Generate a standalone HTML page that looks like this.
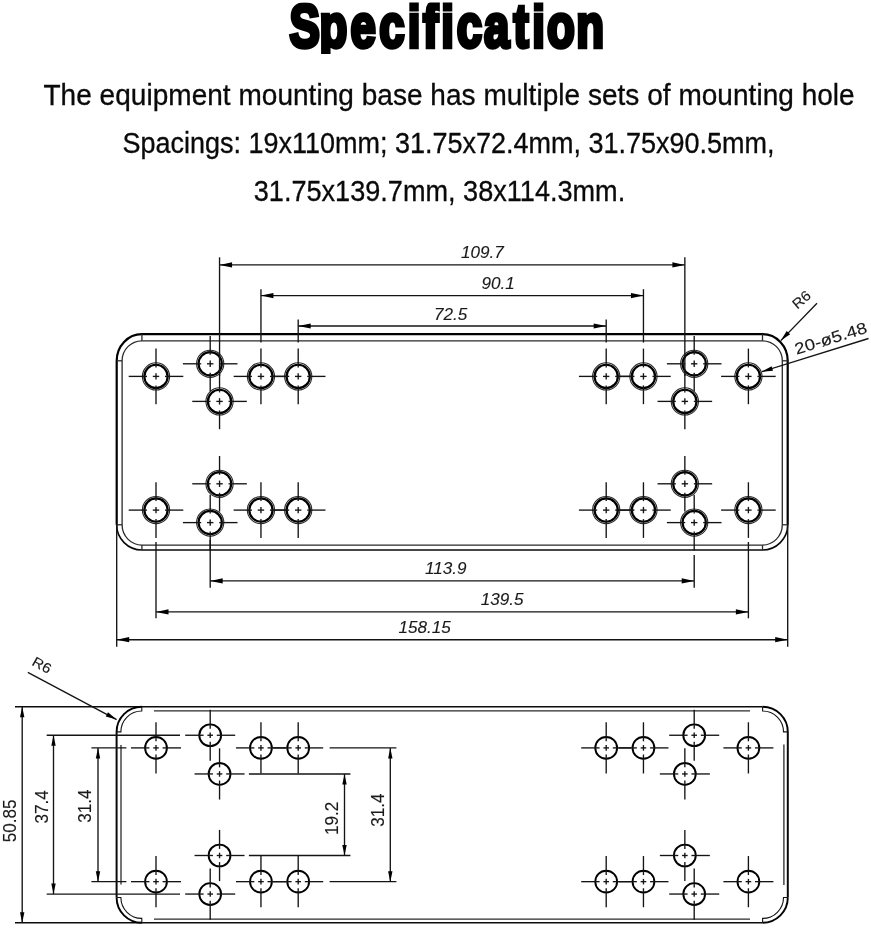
<!DOCTYPE html>
<html lang="en">
<head>
<meta charset="utf-8">
<title>Specification</title>
<style>
html, body { margin: 0; padding: 0; background: #fff; }
body { width: 871px; height: 931px; position: relative; overflow: hidden;
  font-family: "Liberation Sans", sans-serif; color: #000; }
.desc { position: absolute; left: 0; top: 72px; width: 871px; margin: 0; text-align: center;
  font: 400 28px/47.8px "Liberation Sans", sans-serif; color: #0a0a0a; white-space: nowrap; will-change: transform; -webkit-text-stroke: 0.3px #0a0a0a; }
.desc span { display: block; position: relative; transform-origin: 50% 68%; transform: scale(1, 1.08); }
.desc .l1 { left: 13.6px; letter-spacing: 0.03px; }
.desc .l2 { left: 12.5px; transform: scale(0.9635, 1.08); }
.desc .l3 { left: 3.6px; transform: scale(0.9675, 1.08); }
svg { position: absolute; left: 0; top: 0; will-change: transform; }
svg line, svg rect, svg circle, svg path { fill: none; stroke-linecap: butt; }
.k { stroke: #000; stroke-width: 2.2; }
.kb { stroke: #0a0a0a; stroke-width: 1.6; }
.k2 { stroke: #0c0c0c; stroke-width: 1.6; }
.k3 { stroke: #0a0a0a; stroke-width: 2; }
.m { stroke: #2a2a2a; stroke-width: 1.3; }
.t { stroke: #141414; stroke-width: 1.35; }
.c { stroke: #141414; stroke-width: 1.35; }
.h { stroke: #000; stroke-width: 2.2; }
.o { stroke: #2a2a2a; stroke-width: 1.1; }
.b { stroke: #000; stroke-width: 1.9; }
.a { fill: #000; stroke: none; }
.cr { fill: none; stroke: #000; stroke-width: 1.9; }
.cri { fill: none; stroke: #111; stroke-width: 1.1; }
.d { font-family: "Liberation Sans", sans-serif; fill: #1a1a1a; stroke: #1a1a1a; stroke-width: 0.12px; }
.i { font-style: italic; }
.ttl { font-family: "Liberation Sans", sans-serif; font-weight: bold; fill: #000; stroke: #000; stroke-linejoin: miter; }
</style>
</head>
<body>
<p class="desc"><span class="l1">The equipment mounting base has multiple sets of mounting hole</span><span class="l2">Spacings: 19x110mm; 31.75x72.4mm, 31.75x90.5mm,</span><span class="l3">31.75x139.7mm, 38x114.3mm.</span></p>
<svg width="871" height="931" viewBox="0 0 871 931">
<defs><clipPath id="tclip"><rect x="280" y="2.6" width="340" height="51.4"/></clipPath></defs>
<g clip-path="url(#tclip)"><text class="ttl" transform="scale(0.74 1)" font-size="61.5" stroke-width="4.4" x="391.22 431.8 473.63 512.46 550.95 571.47 596.28 617.33 654.23 693.95 719.12 739.19 778.8" y="46.7">Specification</text></g>
<g id="top-view">
<path class="k" d="M116.7,524.8 L116.7,360.8 A25.2,26.6 0 0 1 141.9,334.2 L762.5,334.2 A25.2,26.6 0 0 1 787.7,360.8 L787.7,524.8"/>
<path class="kb" d="M116.7,524.8 A25.2,25.2 0 0 0 141.9,550 L762.5,550 A25.2,25.2 0 0 0 787.7,524.8"/>
<path class="m" d="M122.1,524.8 L122.1,360.8 A19.8,20 0 0 1 141.9,340.8 L762.5,340.8 A19.8,20 0 0 1 782.3,360.8 L782.3,524.8 A19.8,20.3 0 0 1 762.5,545.1 L141.9,545.1 A19.8,20.3 0 0 1 122.1,524.8 Z"/>
<line class="m" x1="141.9" y1="334.2" x2="141.9" y2="340.8"/>
<line class="m" x1="141.9" y1="550" x2="141.9" y2="545.1"/>
<line class="m" x1="116.7" y1="360.8" x2="122.1" y2="360.8"/>
<line class="m" x1="116.7" y1="524.8" x2="122.1" y2="524.8"/>
<line class="m" x1="762.5" y1="334.2" x2="762.5" y2="340.8"/>
<line class="m" x1="762.5" y1="550" x2="762.5" y2="545.1"/>
<line class="m" x1="787.7" y1="360.8" x2="782.3" y2="360.8"/>
<line class="m" x1="787.7" y1="524.8" x2="782.3" y2="524.8"/>
<circle class="o" cx="156" cy="376.4" r="13.6"/>
<circle class="h" cx="156" cy="376.4" r="11.65"/>
<line class="c" x1="147" y1="376.4" x2="128.7" y2="376.4"/>
<line class="c" x1="156" y1="367.4" x2="156" y2="348.6"/>
<line class="c" x1="165" y1="376.4" x2="183.3" y2="376.4"/>
<line class="c" x1="156" y1="385.4" x2="156" y2="404.2"/>
<line class="c" x1="152.8" y1="376.4" x2="159.2" y2="376.4"/>
<line class="c" x1="156" y1="373.2" x2="156" y2="379.6"/>
<circle class="o" cx="260.95" cy="376.4" r="13.6"/>
<circle class="h" cx="260.95" cy="376.4" r="11.65"/>
<line class="c" x1="251.95" y1="376.4" x2="233.65" y2="376.4"/>
<line class="c" x1="260.95" y1="367.4" x2="260.95" y2="348.6"/>
<line class="c" x1="269.95" y1="376.4" x2="288.25" y2="376.4"/>
<line class="c" x1="260.95" y1="385.4" x2="260.95" y2="404.2"/>
<line class="c" x1="257.75" y1="376.4" x2="264.15" y2="376.4"/>
<line class="c" x1="260.95" y1="373.2" x2="260.95" y2="379.6"/>
<circle class="o" cx="298.2" cy="376.4" r="13.6"/>
<circle class="h" cx="298.2" cy="376.4" r="11.65"/>
<line class="c" x1="289.2" y1="376.4" x2="270.9" y2="376.4"/>
<line class="c" x1="298.2" y1="367.4" x2="298.2" y2="348.6"/>
<line class="c" x1="307.2" y1="376.4" x2="325.5" y2="376.4"/>
<line class="c" x1="298.2" y1="385.4" x2="298.2" y2="404.2"/>
<line class="c" x1="295" y1="376.4" x2="301.4" y2="376.4"/>
<line class="c" x1="298.2" y1="373.2" x2="298.2" y2="379.6"/>
<circle class="o" cx="210.2" cy="363.8" r="13.6"/>
<circle class="h" cx="210.2" cy="363.8" r="11.65"/>
<line class="c" x1="201.2" y1="363.8" x2="182.9" y2="363.8"/>
<line class="c" x1="210.2" y1="354.8" x2="210.2" y2="336"/>
<line class="c" x1="219.2" y1="363.8" x2="237.5" y2="363.8"/>
<line class="c" x1="210.2" y1="372.8" x2="210.2" y2="391.6"/>
<line class="c" x1="207" y1="363.8" x2="213.4" y2="363.8"/>
<line class="c" x1="210.2" y1="360.6" x2="210.2" y2="367"/>
<circle class="o" cx="219.55" cy="401.4" r="13.6"/>
<circle class="h" cx="219.55" cy="401.4" r="11.65"/>
<line class="c" x1="210.55" y1="401.4" x2="192.25" y2="401.4"/>
<line class="c" x1="219.55" y1="392.4" x2="219.55" y2="373.6"/>
<line class="c" x1="228.55" y1="401.4" x2="246.85" y2="401.4"/>
<line class="c" x1="219.55" y1="410.4" x2="219.55" y2="429.2"/>
<line class="c" x1="216.35" y1="401.4" x2="222.75" y2="401.4"/>
<line class="c" x1="219.55" y1="398.2" x2="219.55" y2="404.6"/>
<circle class="o" cx="156" cy="510.1" r="13.6"/>
<circle class="h" cx="156" cy="510.1" r="11.65"/>
<line class="c" x1="147" y1="510.1" x2="128.7" y2="510.1"/>
<line class="c" x1="156" y1="501.1" x2="156" y2="482.3"/>
<line class="c" x1="165" y1="510.1" x2="183.3" y2="510.1"/>
<line class="c" x1="156" y1="519.1" x2="156" y2="537.9"/>
<line class="c" x1="152.8" y1="510.1" x2="159.2" y2="510.1"/>
<line class="c" x1="156" y1="506.9" x2="156" y2="513.3"/>
<circle class="o" cx="260.95" cy="510.1" r="13.6"/>
<circle class="h" cx="260.95" cy="510.1" r="11.65"/>
<line class="c" x1="251.95" y1="510.1" x2="233.65" y2="510.1"/>
<line class="c" x1="260.95" y1="501.1" x2="260.95" y2="482.3"/>
<line class="c" x1="269.95" y1="510.1" x2="288.25" y2="510.1"/>
<line class="c" x1="260.95" y1="519.1" x2="260.95" y2="537.9"/>
<line class="c" x1="257.75" y1="510.1" x2="264.15" y2="510.1"/>
<line class="c" x1="260.95" y1="506.9" x2="260.95" y2="513.3"/>
<circle class="o" cx="298.2" cy="510.1" r="13.6"/>
<circle class="h" cx="298.2" cy="510.1" r="11.65"/>
<line class="c" x1="289.2" y1="510.1" x2="270.9" y2="510.1"/>
<line class="c" x1="298.2" y1="501.1" x2="298.2" y2="482.3"/>
<line class="c" x1="307.2" y1="510.1" x2="325.5" y2="510.1"/>
<line class="c" x1="298.2" y1="519.1" x2="298.2" y2="537.9"/>
<line class="c" x1="295" y1="510.1" x2="301.4" y2="510.1"/>
<line class="c" x1="298.2" y1="506.9" x2="298.2" y2="513.3"/>
<circle class="o" cx="210.2" cy="522.6" r="13.6"/>
<circle class="h" cx="210.2" cy="522.6" r="11.65"/>
<line class="c" x1="201.2" y1="522.6" x2="182.9" y2="522.6"/>
<line class="c" x1="210.2" y1="513.6" x2="210.2" y2="494.8"/>
<line class="c" x1="219.2" y1="522.6" x2="237.5" y2="522.6"/>
<line class="c" x1="210.2" y1="531.6" x2="210.2" y2="550.4"/>
<line class="c" x1="207" y1="522.6" x2="213.4" y2="522.6"/>
<line class="c" x1="210.2" y1="519.4" x2="210.2" y2="525.8"/>
<circle class="o" cx="219.55" cy="483.8" r="13.6"/>
<circle class="h" cx="219.55" cy="483.8" r="11.65"/>
<line class="c" x1="210.55" y1="483.8" x2="192.25" y2="483.8"/>
<line class="c" x1="219.55" y1="474.8" x2="219.55" y2="456"/>
<line class="c" x1="228.55" y1="483.8" x2="246.85" y2="483.8"/>
<line class="c" x1="219.55" y1="492.8" x2="219.55" y2="511.6"/>
<line class="c" x1="216.35" y1="483.8" x2="222.75" y2="483.8"/>
<line class="c" x1="219.55" y1="480.6" x2="219.55" y2="487"/>
<circle class="o" cx="748.4" cy="376.4" r="13.6"/>
<circle class="h" cx="748.4" cy="376.4" r="11.65"/>
<line class="c" x1="739.4" y1="376.4" x2="721.1" y2="376.4"/>
<line class="c" x1="748.4" y1="367.4" x2="748.4" y2="348.6"/>
<line class="c" x1="757.4" y1="376.4" x2="775.7" y2="376.4"/>
<line class="c" x1="748.4" y1="385.4" x2="748.4" y2="404.2"/>
<line class="c" x1="745.2" y1="376.4" x2="751.6" y2="376.4"/>
<line class="c" x1="748.4" y1="373.2" x2="748.4" y2="379.6"/>
<circle class="o" cx="643.45" cy="376.4" r="13.6"/>
<circle class="h" cx="643.45" cy="376.4" r="11.65"/>
<line class="c" x1="634.45" y1="376.4" x2="616.15" y2="376.4"/>
<line class="c" x1="643.45" y1="367.4" x2="643.45" y2="348.6"/>
<line class="c" x1="652.45" y1="376.4" x2="670.75" y2="376.4"/>
<line class="c" x1="643.45" y1="385.4" x2="643.45" y2="404.2"/>
<line class="c" x1="640.25" y1="376.4" x2="646.65" y2="376.4"/>
<line class="c" x1="643.45" y1="373.2" x2="643.45" y2="379.6"/>
<circle class="o" cx="606.2" cy="376.4" r="13.6"/>
<circle class="h" cx="606.2" cy="376.4" r="11.65"/>
<line class="c" x1="597.2" y1="376.4" x2="578.9" y2="376.4"/>
<line class="c" x1="606.2" y1="367.4" x2="606.2" y2="348.6"/>
<line class="c" x1="615.2" y1="376.4" x2="633.5" y2="376.4"/>
<line class="c" x1="606.2" y1="385.4" x2="606.2" y2="404.2"/>
<line class="c" x1="603" y1="376.4" x2="609.4" y2="376.4"/>
<line class="c" x1="606.2" y1="373.2" x2="606.2" y2="379.6"/>
<circle class="o" cx="694.2" cy="363.8" r="13.6"/>
<circle class="h" cx="694.2" cy="363.8" r="11.65"/>
<line class="c" x1="685.2" y1="363.8" x2="666.9" y2="363.8"/>
<line class="c" x1="694.2" y1="354.8" x2="694.2" y2="336"/>
<line class="c" x1="703.2" y1="363.8" x2="721.5" y2="363.8"/>
<line class="c" x1="694.2" y1="372.8" x2="694.2" y2="391.6"/>
<line class="c" x1="691" y1="363.8" x2="697.4" y2="363.8"/>
<line class="c" x1="694.2" y1="360.6" x2="694.2" y2="367"/>
<circle class="o" cx="684.85" cy="401.4" r="13.6"/>
<circle class="h" cx="684.85" cy="401.4" r="11.65"/>
<line class="c" x1="675.85" y1="401.4" x2="657.55" y2="401.4"/>
<line class="c" x1="684.85" y1="392.4" x2="684.85" y2="373.6"/>
<line class="c" x1="693.85" y1="401.4" x2="712.15" y2="401.4"/>
<line class="c" x1="684.85" y1="410.4" x2="684.85" y2="429.2"/>
<line class="c" x1="681.65" y1="401.4" x2="688.05" y2="401.4"/>
<line class="c" x1="684.85" y1="398.2" x2="684.85" y2="404.6"/>
<circle class="o" cx="748.4" cy="510.1" r="13.6"/>
<circle class="h" cx="748.4" cy="510.1" r="11.65"/>
<line class="c" x1="739.4" y1="510.1" x2="721.1" y2="510.1"/>
<line class="c" x1="748.4" y1="501.1" x2="748.4" y2="482.3"/>
<line class="c" x1="757.4" y1="510.1" x2="775.7" y2="510.1"/>
<line class="c" x1="748.4" y1="519.1" x2="748.4" y2="537.9"/>
<line class="c" x1="745.2" y1="510.1" x2="751.6" y2="510.1"/>
<line class="c" x1="748.4" y1="506.9" x2="748.4" y2="513.3"/>
<circle class="o" cx="643.45" cy="510.1" r="13.6"/>
<circle class="h" cx="643.45" cy="510.1" r="11.65"/>
<line class="c" x1="634.45" y1="510.1" x2="616.15" y2="510.1"/>
<line class="c" x1="643.45" y1="501.1" x2="643.45" y2="482.3"/>
<line class="c" x1="652.45" y1="510.1" x2="670.75" y2="510.1"/>
<line class="c" x1="643.45" y1="519.1" x2="643.45" y2="537.9"/>
<line class="c" x1="640.25" y1="510.1" x2="646.65" y2="510.1"/>
<line class="c" x1="643.45" y1="506.9" x2="643.45" y2="513.3"/>
<circle class="o" cx="606.2" cy="510.1" r="13.6"/>
<circle class="h" cx="606.2" cy="510.1" r="11.65"/>
<line class="c" x1="597.2" y1="510.1" x2="578.9" y2="510.1"/>
<line class="c" x1="606.2" y1="501.1" x2="606.2" y2="482.3"/>
<line class="c" x1="615.2" y1="510.1" x2="633.5" y2="510.1"/>
<line class="c" x1="606.2" y1="519.1" x2="606.2" y2="537.9"/>
<line class="c" x1="603" y1="510.1" x2="609.4" y2="510.1"/>
<line class="c" x1="606.2" y1="506.9" x2="606.2" y2="513.3"/>
<circle class="o" cx="694.2" cy="522.6" r="13.6"/>
<circle class="h" cx="694.2" cy="522.6" r="11.65"/>
<line class="c" x1="685.2" y1="522.6" x2="666.9" y2="522.6"/>
<line class="c" x1="694.2" y1="513.6" x2="694.2" y2="494.8"/>
<line class="c" x1="703.2" y1="522.6" x2="721.5" y2="522.6"/>
<line class="c" x1="694.2" y1="531.6" x2="694.2" y2="550.4"/>
<line class="c" x1="691" y1="522.6" x2="697.4" y2="522.6"/>
<line class="c" x1="694.2" y1="519.4" x2="694.2" y2="525.8"/>
<circle class="o" cx="684.85" cy="483.8" r="13.6"/>
<circle class="h" cx="684.85" cy="483.8" r="11.65"/>
<line class="c" x1="675.85" y1="483.8" x2="657.55" y2="483.8"/>
<line class="c" x1="684.85" y1="474.8" x2="684.85" y2="456"/>
<line class="c" x1="693.85" y1="483.8" x2="712.15" y2="483.8"/>
<line class="c" x1="684.85" y1="492.8" x2="684.85" y2="511.6"/>
<line class="c" x1="681.65" y1="483.8" x2="688.05" y2="483.8"/>
<line class="c" x1="684.85" y1="480.6" x2="684.85" y2="487"/>
<line class="t" x1="219.55" y1="264.9" x2="684.85" y2="264.9"/>
<polygon class="a" points="219.55,264.9 232.05,262.3 232.05,267.5"/>
<polygon class="a" points="684.85,264.9 672.35,267.5 672.35,262.3"/>
<line class="t" x1="219.55" y1="257.3" x2="219.55" y2="376"/>
<line class="t" x1="684.85" y1="257.3" x2="684.85" y2="376"/>
<line class="t" x1="260.95" y1="295.6" x2="643.45" y2="295.6"/>
<polygon class="a" points="260.95,295.6 273.45,293 273.45,298.2"/>
<polygon class="a" points="643.45,295.6 630.95,298.2 630.95,293"/>
<line class="t" x1="260.95" y1="289.2" x2="260.95" y2="342.6"/>
<line class="t" x1="643.45" y1="289.2" x2="643.45" y2="342.6"/>
<line class="t" x1="298.2" y1="326" x2="606.2" y2="326"/>
<polygon class="a" points="298.2,326 310.7,323.4 310.7,328.6"/>
<polygon class="a" points="606.2,326 593.7,328.6 593.7,323.4"/>
<line class="t" x1="298.2" y1="319.4" x2="298.2" y2="342.6"/>
<line class="t" x1="606.2" y1="319.4" x2="606.2" y2="342.6"/>
<text class="d i" text-anchor="middle" font-size="16" transform="translate(482.4 258.3) scale(1.07 1)">109.7</text>
<text class="d i" text-anchor="middle" font-size="16" transform="translate(498.2 288.7) scale(1.07 1)">90.1</text>
<text class="d i" text-anchor="middle" font-size="16" transform="translate(450.7 319.5) scale(1.07 1)">72.5</text>
<line class="t" x1="210.2" y1="580.9" x2="694.2" y2="580.9"/>
<polygon class="a" points="210.2,580.9 222.7,578.3 222.7,583.5"/>
<polygon class="a" points="694.2,580.9 681.7,583.5 681.7,578.3"/>
<line class="t" x1="210.2" y1="540" x2="210.2" y2="587.8"/>
<line class="t" x1="694.2" y1="555" x2="694.2" y2="587.8"/>
<line class="t" x1="156" y1="611.9" x2="748.4" y2="611.9"/>
<polygon class="a" points="156,611.9 168.5,609.3 168.5,614.5"/>
<polygon class="a" points="748.4,611.9 735.9,614.5 735.9,609.3"/>
<line class="t" x1="156" y1="542" x2="156" y2="618.3"/>
<line class="t" x1="748.4" y1="542" x2="748.4" y2="618.3"/>
<line class="t" x1="116.7" y1="639.7" x2="787.7" y2="639.7"/>
<polygon class="a" points="116.7,639.7 129.2,637.1 129.2,642.3"/>
<polygon class="a" points="787.7,639.7 775.2,642.3 775.2,637.1"/>
<line class="t" x1="116.7" y1="524" x2="116.7" y2="646.8"/>
<line class="t" x1="787.7" y1="524" x2="787.7" y2="646.8"/>
<text class="d i" text-anchor="middle" font-size="16" transform="translate(445.8 573.7) scale(1.07 1)">113.9</text>
<text class="d i" text-anchor="middle" font-size="16" transform="translate(502.2 604.8) scale(1.07 1)">139.5</text>
<text class="d i" text-anchor="middle" font-size="16" transform="translate(424.6 633) scale(1.07 1)">158.15</text>
<line class="t" x1="817" y1="303.2" x2="780.8" y2="340.6"/>
<polygon class="a" points="780.8,340.6 786.71,331.02 790.17,334.35"/>
<text class="d" text-anchor="middle" font-size="14.2" transform="translate(804.6 303.4) rotate(-40) scale(1.07 1)">R6</text>
<line class="t" x1="868.5" y1="338.5" x2="761.8" y2="371.7"/>
<polygon class="a" points="761.8,371.7 771.59,366.14 773.02,370.72"/>
<text class="d" text-anchor="middle" font-size="16" transform="translate(832.3 343.6) rotate(-17.2) scale(1.17 1)">20-ø5.48</text>
</g>
<g id="side-view">
<line class="k2" x1="15" y1="706.7" x2="762.6" y2="706.7"/>
<line class="k2" x1="15" y1="922.7" x2="762.6" y2="922.7"/>
<line class="m" x1="154" y1="710.8" x2="750" y2="710.8"/>
<line class="m" x1="154" y1="919.1" x2="750" y2="919.1"/>
<line class="k3" x1="116.6" y1="731.9" x2="116.6" y2="897.5"/>
<line class="m" x1="121" y1="744.9" x2="121" y2="884.5"/>
<line class="k3" x1="787.8" y1="731.9" x2="787.8" y2="897.5"/>
<line class="m" x1="783.9" y1="744.4" x2="783.9" y2="885"/>
<path class="cr" d="M141.8,706.7 A25.2,25.2 0 0 0 116.6,731.9"/>
<path class="cri" d="M141.8,706.7 L141.8,711 A20.9,20.9 0 0 0 120.9,731.9 L116.6,731.9"/>
<path class="cr" d="M762.6,706.7 A25.2,25.2 0 0 1 787.8,731.9"/>
<path class="cri" d="M762.6,706.7 L762.6,711 A20.9,20.9 0 0 1 783.5,731.9 L787.8,731.9"/>
<path class="cr" d="M141.8,922.7 A25.2,25.2 0 0 1 116.6,897.5"/>
<path class="cri" d="M141.8,922.7 L141.8,918.4 A20.9,20.9 0 0 1 120.9,897.5 L116.6,897.5"/>
<path class="cr" d="M762.6,922.7 A25.2,25.2 0 0 0 787.8,897.5"/>
<path class="cri" d="M762.6,922.7 L762.6,918.4 A20.9,20.9 0 0 0 783.5,897.5 L787.8,897.5"/>
<circle class="b" cx="156" cy="747.9" r="10.9"/>
<line class="c" x1="149.4" y1="747.9" x2="131" y2="747.9"/>
<line class="c" x1="156" y1="741.3" x2="156" y2="722.3"/>
<line class="c" x1="162.6" y1="747.9" x2="181" y2="747.9"/>
<line class="c" x1="156" y1="754.5" x2="156" y2="773.5"/>
<line class="c" x1="153.2" y1="747.9" x2="158.8" y2="747.9"/>
<line class="c" x1="156" y1="745.1" x2="156" y2="750.7"/>
<circle class="b" cx="260.95" cy="747.9" r="10.9"/>
<line class="c" x1="254.35" y1="747.9" x2="235.95" y2="747.9"/>
<line class="c" x1="260.95" y1="741.3" x2="260.95" y2="722.3"/>
<line class="c" x1="267.55" y1="747.9" x2="285.95" y2="747.9"/>
<line class="c" x1="260.95" y1="754.5" x2="260.95" y2="773.5"/>
<line class="c" x1="258.15" y1="747.9" x2="263.75" y2="747.9"/>
<line class="c" x1="260.95" y1="745.1" x2="260.95" y2="750.7"/>
<circle class="b" cx="298.2" cy="747.9" r="10.9"/>
<line class="c" x1="291.6" y1="747.9" x2="273.2" y2="747.9"/>
<line class="c" x1="298.2" y1="741.3" x2="298.2" y2="722.3"/>
<line class="c" x1="304.8" y1="747.9" x2="323.2" y2="747.9"/>
<line class="c" x1="298.2" y1="754.5" x2="298.2" y2="773.5"/>
<line class="c" x1="295.4" y1="747.9" x2="301" y2="747.9"/>
<line class="c" x1="298.2" y1="745.1" x2="298.2" y2="750.7"/>
<circle class="b" cx="210.2" cy="735.25" r="10.9"/>
<line class="c" x1="203.6" y1="735.25" x2="185.2" y2="735.25"/>
<line class="c" x1="210.2" y1="728.65" x2="210.2" y2="709.65"/>
<line class="c" x1="216.8" y1="735.25" x2="235.2" y2="735.25"/>
<line class="c" x1="210.2" y1="741.85" x2="210.2" y2="760.85"/>
<line class="c" x1="207.4" y1="735.25" x2="213" y2="735.25"/>
<line class="c" x1="210.2" y1="732.45" x2="210.2" y2="738.05"/>
<circle class="b" cx="219.55" cy="773.95" r="10.9"/>
<line class="c" x1="212.95" y1="773.95" x2="194.55" y2="773.95"/>
<line class="c" x1="219.55" y1="767.35" x2="219.55" y2="748.35"/>
<line class="c" x1="226.15" y1="773.95" x2="244.55" y2="773.95"/>
<line class="c" x1="219.55" y1="780.55" x2="219.55" y2="799.55"/>
<line class="c" x1="216.75" y1="773.95" x2="222.35" y2="773.95"/>
<line class="c" x1="219.55" y1="771.15" x2="219.55" y2="776.75"/>
<circle class="b" cx="156" cy="881.65" r="10.9"/>
<line class="c" x1="149.4" y1="881.65" x2="131" y2="881.65"/>
<line class="c" x1="156" y1="875.05" x2="156" y2="856.05"/>
<line class="c" x1="162.6" y1="881.65" x2="181" y2="881.65"/>
<line class="c" x1="156" y1="888.25" x2="156" y2="907.25"/>
<line class="c" x1="153.2" y1="881.65" x2="158.8" y2="881.65"/>
<line class="c" x1="156" y1="878.85" x2="156" y2="884.45"/>
<circle class="b" cx="260.95" cy="881.65" r="10.9"/>
<line class="c" x1="254.35" y1="881.65" x2="235.95" y2="881.65"/>
<line class="c" x1="260.95" y1="875.05" x2="260.95" y2="856.05"/>
<line class="c" x1="267.55" y1="881.65" x2="285.95" y2="881.65"/>
<line class="c" x1="260.95" y1="888.25" x2="260.95" y2="907.25"/>
<line class="c" x1="258.15" y1="881.65" x2="263.75" y2="881.65"/>
<line class="c" x1="260.95" y1="878.85" x2="260.95" y2="884.45"/>
<circle class="b" cx="298.2" cy="881.65" r="10.9"/>
<line class="c" x1="291.6" y1="881.65" x2="273.2" y2="881.65"/>
<line class="c" x1="298.2" y1="875.05" x2="298.2" y2="856.05"/>
<line class="c" x1="304.8" y1="881.65" x2="323.2" y2="881.65"/>
<line class="c" x1="298.2" y1="888.25" x2="298.2" y2="907.25"/>
<line class="c" x1="295.4" y1="881.65" x2="301" y2="881.65"/>
<line class="c" x1="298.2" y1="878.85" x2="298.2" y2="884.45"/>
<circle class="b" cx="210.2" cy="894.05" r="10.9"/>
<line class="c" x1="203.6" y1="894.05" x2="185.2" y2="894.05"/>
<line class="c" x1="210.2" y1="887.45" x2="210.2" y2="868.45"/>
<line class="c" x1="216.8" y1="894.05" x2="235.2" y2="894.05"/>
<line class="c" x1="210.2" y1="900.65" x2="210.2" y2="919.65"/>
<line class="c" x1="207.4" y1="894.05" x2="213" y2="894.05"/>
<line class="c" x1="210.2" y1="891.25" x2="210.2" y2="896.85"/>
<circle class="b" cx="219.55" cy="855.5" r="10.9"/>
<line class="c" x1="212.95" y1="855.5" x2="194.55" y2="855.5"/>
<line class="c" x1="219.55" y1="848.9" x2="219.55" y2="829.9"/>
<line class="c" x1="226.15" y1="855.5" x2="244.55" y2="855.5"/>
<line class="c" x1="219.55" y1="862.1" x2="219.55" y2="881.1"/>
<line class="c" x1="216.75" y1="855.5" x2="222.35" y2="855.5"/>
<line class="c" x1="219.55" y1="852.7" x2="219.55" y2="858.3"/>
<circle class="b" cx="748.4" cy="747.9" r="10.9"/>
<line class="c" x1="741.8" y1="747.9" x2="723.4" y2="747.9"/>
<line class="c" x1="748.4" y1="741.3" x2="748.4" y2="722.3"/>
<line class="c" x1="755" y1="747.9" x2="773.4" y2="747.9"/>
<line class="c" x1="748.4" y1="754.5" x2="748.4" y2="773.5"/>
<line class="c" x1="745.6" y1="747.9" x2="751.2" y2="747.9"/>
<line class="c" x1="748.4" y1="745.1" x2="748.4" y2="750.7"/>
<circle class="b" cx="643.45" cy="747.9" r="10.9"/>
<line class="c" x1="636.85" y1="747.9" x2="618.45" y2="747.9"/>
<line class="c" x1="643.45" y1="741.3" x2="643.45" y2="722.3"/>
<line class="c" x1="650.05" y1="747.9" x2="668.45" y2="747.9"/>
<line class="c" x1="643.45" y1="754.5" x2="643.45" y2="773.5"/>
<line class="c" x1="640.65" y1="747.9" x2="646.25" y2="747.9"/>
<line class="c" x1="643.45" y1="745.1" x2="643.45" y2="750.7"/>
<circle class="b" cx="606.2" cy="747.9" r="10.9"/>
<line class="c" x1="599.6" y1="747.9" x2="581.2" y2="747.9"/>
<line class="c" x1="606.2" y1="741.3" x2="606.2" y2="722.3"/>
<line class="c" x1="612.8" y1="747.9" x2="631.2" y2="747.9"/>
<line class="c" x1="606.2" y1="754.5" x2="606.2" y2="773.5"/>
<line class="c" x1="603.4" y1="747.9" x2="609" y2="747.9"/>
<line class="c" x1="606.2" y1="745.1" x2="606.2" y2="750.7"/>
<circle class="b" cx="694.2" cy="735.25" r="10.9"/>
<line class="c" x1="687.6" y1="735.25" x2="669.2" y2="735.25"/>
<line class="c" x1="694.2" y1="728.65" x2="694.2" y2="709.65"/>
<line class="c" x1="700.8" y1="735.25" x2="719.2" y2="735.25"/>
<line class="c" x1="694.2" y1="741.85" x2="694.2" y2="760.85"/>
<line class="c" x1="691.4" y1="735.25" x2="697" y2="735.25"/>
<line class="c" x1="694.2" y1="732.45" x2="694.2" y2="738.05"/>
<circle class="b" cx="684.85" cy="773.95" r="10.9"/>
<line class="c" x1="678.25" y1="773.95" x2="659.85" y2="773.95"/>
<line class="c" x1="684.85" y1="767.35" x2="684.85" y2="748.35"/>
<line class="c" x1="691.45" y1="773.95" x2="709.85" y2="773.95"/>
<line class="c" x1="684.85" y1="780.55" x2="684.85" y2="799.55"/>
<line class="c" x1="682.05" y1="773.95" x2="687.65" y2="773.95"/>
<line class="c" x1="684.85" y1="771.15" x2="684.85" y2="776.75"/>
<circle class="b" cx="748.4" cy="881.65" r="10.9"/>
<line class="c" x1="741.8" y1="881.65" x2="723.4" y2="881.65"/>
<line class="c" x1="748.4" y1="875.05" x2="748.4" y2="856.05"/>
<line class="c" x1="755" y1="881.65" x2="773.4" y2="881.65"/>
<line class="c" x1="748.4" y1="888.25" x2="748.4" y2="907.25"/>
<line class="c" x1="745.6" y1="881.65" x2="751.2" y2="881.65"/>
<line class="c" x1="748.4" y1="878.85" x2="748.4" y2="884.45"/>
<circle class="b" cx="643.45" cy="881.65" r="10.9"/>
<line class="c" x1="636.85" y1="881.65" x2="618.45" y2="881.65"/>
<line class="c" x1="643.45" y1="875.05" x2="643.45" y2="856.05"/>
<line class="c" x1="650.05" y1="881.65" x2="668.45" y2="881.65"/>
<line class="c" x1="643.45" y1="888.25" x2="643.45" y2="907.25"/>
<line class="c" x1="640.65" y1="881.65" x2="646.25" y2="881.65"/>
<line class="c" x1="643.45" y1="878.85" x2="643.45" y2="884.45"/>
<circle class="b" cx="606.2" cy="881.65" r="10.9"/>
<line class="c" x1="599.6" y1="881.65" x2="581.2" y2="881.65"/>
<line class="c" x1="606.2" y1="875.05" x2="606.2" y2="856.05"/>
<line class="c" x1="612.8" y1="881.65" x2="631.2" y2="881.65"/>
<line class="c" x1="606.2" y1="888.25" x2="606.2" y2="907.25"/>
<line class="c" x1="603.4" y1="881.65" x2="609" y2="881.65"/>
<line class="c" x1="606.2" y1="878.85" x2="606.2" y2="884.45"/>
<circle class="b" cx="694.2" cy="894.05" r="10.9"/>
<line class="c" x1="687.6" y1="894.05" x2="669.2" y2="894.05"/>
<line class="c" x1="694.2" y1="887.45" x2="694.2" y2="868.45"/>
<line class="c" x1="700.8" y1="894.05" x2="719.2" y2="894.05"/>
<line class="c" x1="694.2" y1="900.65" x2="694.2" y2="919.65"/>
<line class="c" x1="691.4" y1="894.05" x2="697" y2="894.05"/>
<line class="c" x1="694.2" y1="891.25" x2="694.2" y2="896.85"/>
<circle class="b" cx="684.85" cy="855.5" r="10.9"/>
<line class="c" x1="678.25" y1="855.5" x2="659.85" y2="855.5"/>
<line class="c" x1="684.85" y1="848.9" x2="684.85" y2="829.9"/>
<line class="c" x1="691.45" y1="855.5" x2="709.85" y2="855.5"/>
<line class="c" x1="684.85" y1="862.1" x2="684.85" y2="881.1"/>
<line class="c" x1="682.05" y1="855.5" x2="687.65" y2="855.5"/>
<line class="c" x1="684.85" y1="852.7" x2="684.85" y2="858.3"/>
<line class="t" x1="22.2" y1="706.7" x2="22.2" y2="922.7"/>
<polygon class="a" points="22.2,706.7 24.4,717.2 20,717.2"/>
<polygon class="a" points="22.2,922.7 20,912.2 24.4,912.2"/>
<text class="d" text-anchor="middle" font-size="17.6" transform="translate(15.5 820.8) rotate(-90) scale(0.97 1)">50.85</text>
<line class="t" x1="46.7" y1="735.25" x2="180" y2="735.25"/>
<line class="t" x1="91.4" y1="747.9" x2="126.4" y2="747.9"/>
<line class="t" x1="248.9" y1="773.95" x2="350.4" y2="773.95"/>
<line class="t" x1="329.6" y1="747.9" x2="396.4" y2="747.9"/>
<line class="t" x1="46.7" y1="894.05" x2="180" y2="894.05"/>
<line class="t" x1="91.4" y1="881.65" x2="126.4" y2="881.65"/>
<line class="t" x1="248.9" y1="855.5" x2="350.4" y2="855.5"/>
<line class="t" x1="329.6" y1="881.65" x2="396.4" y2="881.65"/>
<line class="t" x1="53.5" y1="735.25" x2="53.5" y2="894.05"/>
<polygon class="a" points="53.5,735.25 55.7,745.75 51.3,745.75"/>
<polygon class="a" points="53.5,894.05 51.3,883.55 55.7,883.55"/>
<text class="d" text-anchor="middle" font-size="17.6" transform="translate(47.9 806.8) rotate(-90) scale(0.97 1)">37.4</text>
<line class="t" x1="98" y1="747.9" x2="98" y2="881.65"/>
<polygon class="a" points="98,747.9 100.2,758.4 95.8,758.4"/>
<polygon class="a" points="98,881.65 95.8,871.15 100.2,871.15"/>
<text class="d" text-anchor="middle" font-size="17.6" transform="translate(91.3 806.2) rotate(-90) scale(0.97 1)">31.4</text>
<line class="t" x1="344.5" y1="773.95" x2="344.5" y2="855.5"/>
<polygon class="a" points="344.5,773.95 346.7,784.45 342.3,784.45"/>
<polygon class="a" points="344.5,855.5 342.3,845 346.7,845"/>
<text class="d" text-anchor="middle" font-size="17.6" transform="translate(338.3 818.4) rotate(-90) scale(0.97 1)">19.2</text>
<line class="t" x1="390.3" y1="747.9" x2="390.3" y2="881.65"/>
<polygon class="a" points="390.3,747.9 392.5,758.4 388.1,758.4"/>
<polygon class="a" points="390.3,881.65 388.1,871.15 392.5,871.15"/>
<text class="d" text-anchor="middle" font-size="17.6" transform="translate(384.4 810.2) rotate(-90) scale(0.97 1)">31.4</text>
<line class="t" x1="27.8" y1="672.4" x2="116.6" y2="719.6"/>
<polygon class="a" points="116.6,719.6 105.76,716.55 108.01,712.32"/>
<text class="d" text-anchor="middle" font-size="14.2" transform="translate(39.6 669.4) rotate(29) scale(1.07 1)">R6</text>
</g>
</svg>
</body>
</html>
